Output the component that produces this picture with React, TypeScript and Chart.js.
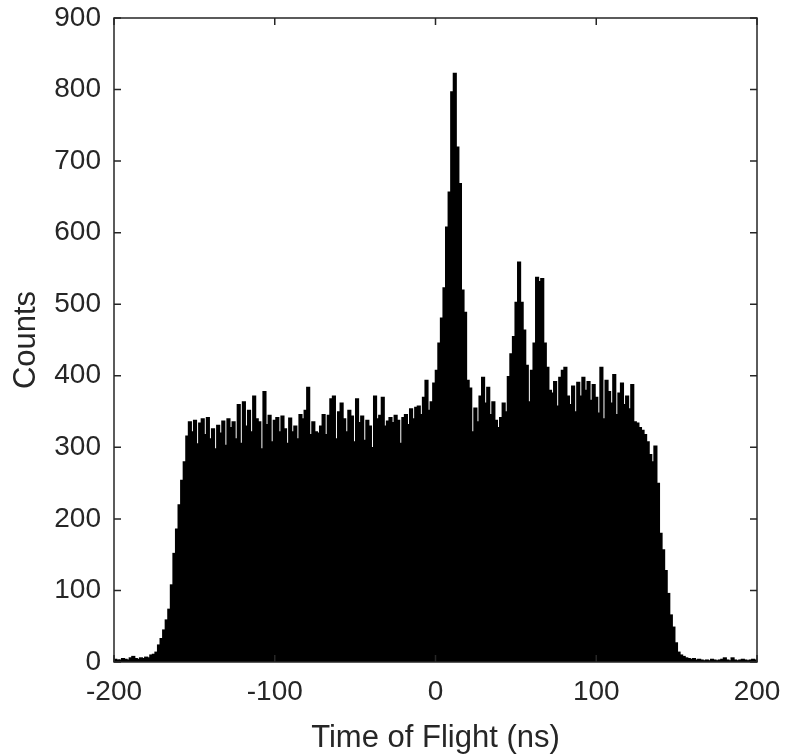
import React, { useEffect, useRef } from "react";
import { Chart, registerables } from "chart.js";

Chart.register(...registerables);

// Histogram bins: 250 bins of 1.6 ns from -200 ns to 200 ns
const BIN_START = -200;
const BIN_WIDTH = 1.6;

const counts: number[] = [
  4, 3, 3, 5, 4, 3, 6, 8, 5, 4,
  6, 5, 7, 6, 10, 11, 14, 24, 33, 45,
  59, 74, 108, 152, 186, 220, 254, 280, 316, 336,
  322, 338, 305, 334, 340, 318, 342, 312, 326, 298,
  331, 320, 337, 303, 340, 328, 336, 312, 360, 306,
  364, 330, 352, 322, 372, 340, 336, 298, 378, 332,
  345, 308, 338, 342, 322, 344, 326, 306, 341, 322,
  330, 312, 346, 340, 352, 384, 318, 336, 322, 320,
  330, 346, 318, 345, 368, 372, 312, 350, 362, 340,
  322, 352, 344, 308, 368, 335, 344, 310, 338, 330,
  300, 372, 340, 345, 370, 330, 337, 342, 335, 345,
  338, 306, 342, 346, 332, 354, 340, 356, 358, 346,
  370, 394, 352, 364, 390, 408, 446, 481, 523, 608,
  657, 797, 823, 720, 669, 520, 489, 394, 383, 322,
  355, 336, 372, 398, 362, 384, 346, 364, 338, 328,
  342, 362, 350, 399, 431, 455, 503, 559, 503, 464,
  415, 364, 408, 446, 538, 532, 536, 446, 412, 380,
  376, 392, 358, 398, 408, 412, 372, 360, 386, 350,
  391, 372, 398, 380, 392, 366, 388, 370, 348, 412,
  340, 394, 378, 362, 402, 346, 376, 390, 360, 372,
  354, 388, 336, 334, 328, 324, 318, 308, 290, 280,
  302, 250, 180, 157, 128, 96, 66, 49, 27, 14,
  10, 8, 6, 5, 4, 5, 3, 4, 3, 2,
  3, 2, 4, 3, 2, 3, 4, 6, 3, 2,
  6, 3, 2, 3, 4, 3, 2, 3, 4, 3,
];

const xTicks = [-200, -100, 0, 100, 200];
const yTicks = [0, 100, 200, 300, 400, 500, 600, 700, 800, 900];

const X_TITLE = "Time of Flight (ns)";
const Y_TITLE = "Counts";

const AXIS_COLOR = "#262626";
const FONT = "'Liberation Sans', Arial, Helvetica, sans-serif";

const framePlugin = {
  id: "matlabFrame",
  afterDraw(chart: any) {
    const { ctx, chartArea } = chart;
    const { left, right, top, bottom } = chartArea;
    const xs = chart.scales.x;
    const ys = chart.scales.y;
    const tl = 7;
    ctx.save();
    ctx.strokeStyle = AXIS_COLOR;
    ctx.lineWidth = 1.5;
    ctx.beginPath();
    for (const v of xTicks) {
      const px = xs.getPixelForValue(v);
      ctx.moveTo(px, bottom);
      ctx.lineTo(px, bottom - tl);
      ctx.moveTo(px, top);
      ctx.lineTo(px, top + tl);
    }
    for (const v of yTicks) {
      const py = ys.getPixelForValue(v);
      ctx.moveTo(left, py);
      ctx.lineTo(left + tl, py);
      ctx.moveTo(right, py);
      ctx.lineTo(right - tl, py);
    }
    ctx.stroke();
    ctx.strokeRect(left, top, right - left, bottom - top);
    ctx.restore();
  },
};

export default function App() {
  const canvasRef = useRef<HTMLCanvasElement | null>(null);

  useEffect(() => {
    const canvas = canvasRef.current;
    if (!canvas) return;
    const data = counts.map((c, i) => ({
      x: BIN_START + BIN_WIDTH * (i + 0.5),
      y: c,
    }));
    const chart = new Chart(canvas, {
      type: "bar",
      data: {
        datasets: [
          {
            data: data as any,
            backgroundColor: "#000000",
            borderWidth: 0,
            barPercentage: 1.3,
            categoryPercentage: 1,
            inflateAmount: 0.4,
          } as any,
        ],
      },
      options: {
        animation: false,
        responsive: true,
        maintainAspectRatio: false,
        layout: { padding: { left: 0, top: 18, right: 29, bottom: 0 } },
        plugins: {
          legend: { display: false },
          tooltip: { enabled: false },
        },
        scales: {
          x: {
            type: "linear",
            offset: false,
            min: -200,
            max: 200,
            afterFit: (s: any) => {
              s.height = 93;
              s.paddingLeft = 0;
              s.paddingRight = 0;
            },
            afterBuildTicks: (s: any) => {
              s.ticks = xTicks.map((v) => ({ value: v }));
            },
            grid: { display: false, drawTicks: false, offset: false },
            border: { display: false },
            ticks: {
              color: AXIS_COLOR,
              font: { family: FONT, size: 28 },
              padding: 13,
              maxRotation: 0,
              autoSkip: false,
            },
            title: {
              display: true,
              text: X_TITLE,
              color: AXIS_COLOR,
              font: { family: FONT, size: 31 },
              padding: { top: 0, bottom: -2 },
            },
          },
          y: {
            type: "linear",
            min: 0,
            max: 900,
            afterFit: (s: any) => {
              s.width = 114;
              s.paddingTop = 0;
              s.paddingBottom = 0;
            },
            afterBuildTicks: (s: any) => {
              s.ticks = yTicks.map((v) => ({ value: v }));
            },
            grid: { display: false, drawTicks: false },
            border: { display: false },
            ticks: {
              color: AXIS_COLOR,
              font: { family: FONT, size: 28 },
              padding: 13,
              autoSkip: false,
            },
            title: {
              display: true,
              text: Y_TITLE,
              color: AXIS_COLOR,
              font: { family: FONT, size: 31 },
              padding: { top: 8, bottom: 0 },
            },
          },
        },
      },
      plugins: [framePlugin],
    });
    return () => chart.destroy();
  }, []);

  return (
    <div
      style={{
        position: "fixed",
        left: 0,
        top: 0,
        width: 786,
        height: 755,
        background: "#ffffff",
      }}
    >
      <canvas ref={canvasRef} />
    </div>
  );
}
